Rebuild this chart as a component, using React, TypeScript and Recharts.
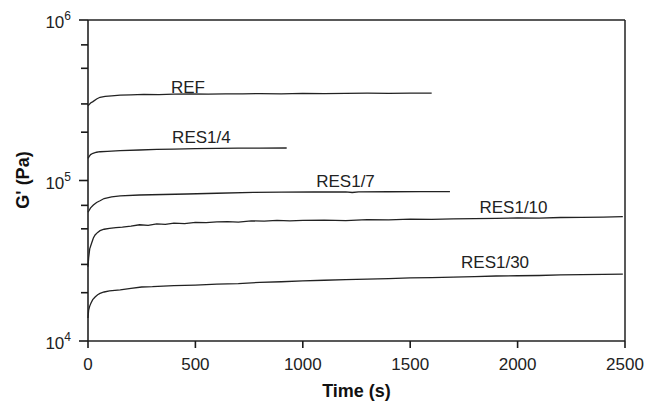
import { LineChart, Line, XAxis, YAxis, ReferenceDot } from 'recharts'

const refTime = [0, 5, 12, 23, 40, 56, 80, 110, 150, 200, 260, 330, 400, 480, 560, 640, 720, 800, 900, 1000, 1100, 1200, 1300, 1400, 1500, 1600]
const refG = [2.92e5, 2.97e5, 3.04e5, 3.1e5, 3.22e5, 3.3e5, 3.34e5, 3.37e5, 3.4e5, 3.42e5, 3.44e5, 3.43e5, 3.45e5, 3.46e5, 3.45e5, 3.47e5, 3.47e5, 3.48e5, 3.47e5, 3.49e5, 3.48e5, 3.49e5, 3.5e5, 3.49e5, 3.5e5, 3.5e5]

const res4Time = [0, 5, 12, 23, 40, 56, 90, 150, 240, 320, 400, 500, 600, 700, 800, 925]
const res4G = [1.375e5, 1.41e5, 1.45e5, 1.478e5, 1.5e5, 1.511e5, 1.52e5, 1.533e5, 1.549e5, 1.565e5, 1.57e5, 1.58e5, 1.585e5, 1.589e5, 1.59e5, 1.594e5]

const res7Time = [0, 5, 12, 25, 40, 56, 75, 110, 150, 240, 350, 460, 600, 770, 900, 1050, 1200, 1230, 1260, 1400, 1550, 1685]
const res7G = [6.34e4, 6.5e4, 6.75e4, 7.03e4, 7.3e4, 7.48e4, 7.72e4, 7.9e4, 8.01e4, 8.12e4, 8.18e4, 8.24e4, 8.33e4, 8.44e4, 8.46e4, 8.48e4, 8.5e4, 8.42e4, 8.5e4, 8.51e4, 8.52e4, 8.52e4]

const res10Time = [0, 3, 8, 17, 25, 33, 45, 56, 75, 100, 130, 160, 200, 240, 280, 320, 360, 400, 450, 500, 550, 600, 650, 700, 760, 820, 880, 940, 1000, 1100, 1200, 1300, 1400, 1500, 1600, 1700, 1800, 1900, 2000, 2100, 2200, 2300, 2400, 2490]
const res10G = [2.9e4, 3.3e4, 3.75e4, 4.08e4, 4.38e4, 4.58e4, 4.75e4, 4.87e4, 4.97e4, 5.03e4, 5.08e4, 5.12e4, 5.2e4, 5.3e4, 5.26e4, 5.36e4, 5.33e4, 5.42e4, 5.38e4, 5.49e4, 5.46e4, 5.52e4, 5.54e4, 5.5e4, 5.6e4, 5.58e4, 5.64e4, 5.6e4, 5.65e4, 5.66e4, 5.63e4, 5.7e4, 5.68e4, 5.74e4, 5.72e4, 5.77e4, 5.79e4, 5.8e4, 5.84e4, 5.83e4, 5.88e4, 5.9e4, 5.92e4, 5.95e4]

const res30Time = [0, 3, 8, 14, 22, 33, 45, 56, 75, 100, 150, 200, 250, 300, 350, 400, 500, 600, 700, 800, 900, 1000, 1100, 1200, 1300, 1400, 1500, 1600, 1700, 1800, 1900, 2000, 2100, 2200, 2300, 2400, 2490]
const res30G = [1.39e4, 1.56e4, 1.65e4, 1.725e4, 1.81e4, 1.88e4, 1.94e4, 1.98e4, 2.02e4, 2.05e4, 2.08e4, 2.13e4, 2.17e4, 2.18e4, 2.2e4, 2.21e4, 2.23e4, 2.26e4, 2.28e4, 2.32e4, 2.34e4, 2.37e4, 2.39e4, 2.41e4, 2.43e4, 2.45e4, 2.47e4, 2.48e4, 2.5e4, 2.52e4, 2.54e4, 2.55e4, 2.56e4, 2.58e4, 2.59e4, 2.6e4, 2.61e4]

const seriesNames = ['REF', 'RES1/4', 'RES1/7', 'RES1/10', 'RES1/30']
const labelTime = [465, 528, 1199, 1981, 1895]
const labelG = [3.51e5, 1.712e5, 9.14e4, 6.27e4, 2.85e4]

const xTicks = [0, 500, 1000, 1500, 2000, 2500]
const majorY = [1e4, 1e5, 1e6]
const minorY = [2e4, 3e4, 4e4, 5e4, 6e4, 7e4, 8e4, 9e4, 2e5, 3e5, 4e5, 5e5, 6e5, 7e5, 8e5, 9e5]
const yTicks = [...majorY, ...minorY].sort((a, b) => a - b)

const build = (ts: number[], vs: number[]) => ts.map((t, i) => ({ t, g: vs[i] }))
const series = [
  build(refTime, refG),
  build(res4Time, res4G),
  build(res7Time, res7G),
  build(res10Time, res10G),
  build(res30Time, res30G),
]

const FONT = '"Liberation Sans", Arial, sans-serif'
const INK = '#222'

// tick x arrives as axis x - tickSize - tickMargin (88 - 7 - 2 = 79)
function YTick(props: any) {
  const { x, y, payload } = props
  const v = payload.value
  const major = majorY.includes(v)
  return (
    <g>
      <line x1={major ? x : x + 2} x2={x + 9} y1={y} y2={y} stroke="#1a1a1a" strokeWidth={1.6} />
      {major && (
        <text x={x - 8} y={y + 8} textAnchor="end" fontSize={17} fill={INK} fontFamily={FONT}>
          <tspan>10</tspan>
          <tspan dy={-8} fontSize={12}>{Math.round(Math.log10(v))}</tspan>
        </text>
      )}
    </g>
  )
}

function SeriesLabel(text: string) {
  return (props: any) => (
    <text x={props.cx} y={props.cy} textAnchor="middle" fontSize={17} fill={INK} fontFamily={FONT}>
      {text}
    </text>
  )
}

export default function App() {
  return (
    <div style={{ position: 'absolute', left: 0, top: 0, width: 646, height: 404, background: '#fff' }}>
      <LineChart width={646} height={404} margin={{ top: 19, right: 20, left: 0, bottom: 0 }}>
        <XAxis
          dataKey="t"
          type="number"
          domain={[0, 2500]}
          ticks={xTicks}
          height={63}
          tickSize={7}
          tickMargin={10}
          tick={{ fontSize: 17, fill: INK, fontFamily: FONT }}
          tickLine={{ stroke: '#1a1a1a', strokeWidth: 1.6 }}
          axisLine={{ stroke: INK, strokeWidth: 1.6 }}
        />
        <XAxis
          xAxisId="top"
          orientation="top"
          type="number"
          domain={[0, 2500]}
          height={1}
          tick={false}
          tickLine={false}
          axisLine={{ stroke: INK, strokeWidth: 1.5 }}
        />
        <YAxis
          dataKey="g"
          scale="log"
          domain={[1e4, 1e6]}
          allowDataOverflow
          ticks={yTicks}
          width={88}
          tickSize={7}
          tickLine={false}
          tick={<YTick />}
          axisLine={{ stroke: INK, strokeWidth: 1.6 }}
        />
        <YAxis
          yAxisId="right"
          orientation="right"
          domain={[0, 1]}
          width={1}
          tick={false}
          tickLine={false}
          axisLine={{ stroke: INK, strokeWidth: 1.5 }}
        />
        {series.map((d, i) => (
          <Line
            key={seriesNames[i]}
            data={d}
            dataKey="g"
            name={seriesNames[i]}
            type="linear"
            stroke={INK}
            strokeWidth={1.3}
            dot={false}
            isAnimationActive={false}
          />
        ))}
        {seriesNames.map((n, i) => (
          <ReferenceDot key={'lbl' + n} x={labelTime[i]} y={labelG[i]} r={0} shape={SeriesLabel(n)} />
        ))}
      </LineChart>
      <svg width={646} height={404} style={{ position: 'absolute', left: 0, top: 0, pointerEvents: 'none' }}>
        <text x={356.5} y={397} textAnchor="middle" fontSize={18} fontWeight="bold" fill="#111" fontFamily={FONT}>
          Time (s)
        </text>
        <text
          x={29}
          y={180}
          transform="rotate(-90, 29, 180)"
          textAnchor="middle"
          fontSize={18}
          fontWeight="bold"
          fill="#111"
          fontFamily={FONT}
        >
          G' (Pa)
        </text>
      </svg>
    </div>
  )
}
